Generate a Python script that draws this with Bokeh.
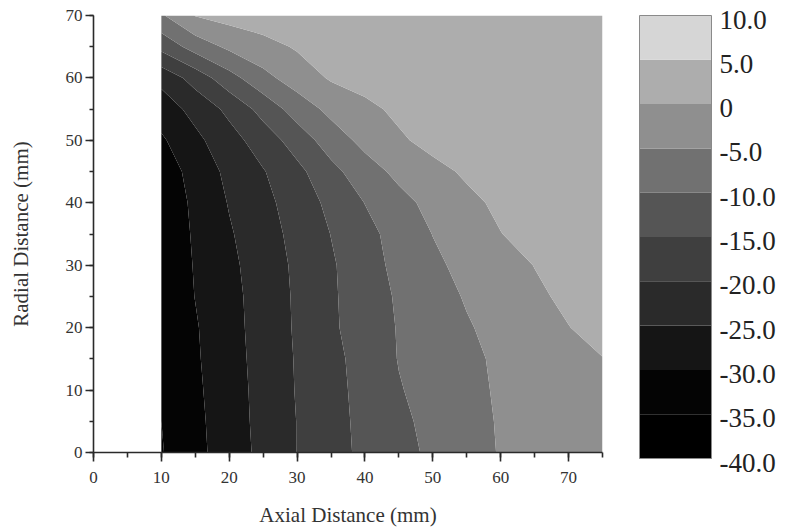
import numpy as np
from bokeh.plotting import figure
from bokeh.layouts import row
from bokeh.models import SingleIntervalTicker, Range1d, ColumnDataSource
from bokeh.embed import file_html
from bokeh.resources import INLINE
from bokeh.core.properties import value

# ---------------- data ----------------
axial_mm = [10, 15, 20, 25, 30, 35, 40, 45, 50, 55, 60, 65, 70, 75]
radial_mm = [0, 5, 10, 15, 20, 25, 30, 35, 40, 45, 50, 55, 60, 65, 70]

row_r0 = [-35.3, -31.4, -27.5, -23.7, -19.9, -16.8, -13.9, -11.5, -9.1, -6.9, -4.7, -3.2, -2.0, -1.0]
row_r5 = [-35.0, -31.2, -27.3, -23.5, -19.9, -16.7, -13.7, -11.0, -8.7, -6.6, -4.6, -3.0, -1.8, -0.8]
row_r10 = [-34.7, -30.9, -27.1, -23.4, -19.7, -16.6, -13.4, -10.3, -8.3, -6.3, -4.4, -2.8, -1.4, -0.4]
row_r15 = [-34.3, -30.6, -26.9, -23.2, -19.6, -16.4, -13.1, -9.8, -7.9, -5.9, -4.3, -2.9, -1.5, -0.1]
row_r20 = [-34.0, -30.4, -26.7, -23.0, -19.4, -15.8, -12.6, -9.7, -7.5, -5.4, -3.6, -1.9, -0.1, 1.4]
row_r25 = [-33.5, -29.9, -26.5, -22.9, -19.3, -15.7, -12.4, -9.4, -6.9, -4.6, -2.7, -0.8, 0.9, 2.4]
row_r30 = [-33.3, -29.7, -26.1, -22.6, -19.1, -15.6, -12.0, -8.7, -5.9, -3.7, -1.8, 0.1, 1.8, 3.2]
row_r35 = [-33.4, -29.4, -25.5, -22.0, -18.6, -14.9, -11.5, -8.1, -4.9, -2.5, -0.1, 1.6, 2.9, 3.7]
row_r40 = [-33.4, -29.0, -24.7, -21.4, -17.7, -13.8, -9.9, -6.5, -3.6, -1.1, 0.9, 2.3, 3.3, 3.9]
row_r45 = [-32.9, -28.1, -23.8, -20.3, -16.3, -11.5, -7.1, -3.8, -1.4, 0.7, 2.2, 3.2, 3.9, 4.3]
row_r50 = [-30.7, -26.2, -21.9, -17.6, -12.8, -7.5, -3.6, -0.7, 1.5, 2.8, 3.6, 4.1, 4.4, 4.6]
row_r55 = [-27.7, -23.4, -18.8, -13.3, -7.8, -3.7, -1.2, 1.0, 2.4, 3.3, 3.9, 4.3, 4.5, 4.7]
row_r60 = [-23.5, -18.0, -11.9, -6.5, -2.6, 0.5, 1.9, 2.9, 3.5, 4.0, 4.3, 4.5, 4.7, 4.8]
row_r65 = [-13.5, -7.9, -4.0, -1.7, 0.5, 1.8, 2.8, 3.4, 3.9, 4.2, 4.4, 4.6, 4.7, 4.8]
row_r70 = [-5.6, 0.2, 1.8, 2.8, 3.4, 3.8, 4.1, 4.3, 4.5, 4.6, 4.7, 4.7, 4.8, 4.8]

levels = [-40, -35, -30, -25, -20, -15, -10, -5, 0, 5, 10]
level_labels = ["-40.0", "-35.0", "-30.0", "-25.0", "-20.0", "-15.0",
                "-10.0", "-5.0", "0", "5.0", "10.0"]
band_colors = ["#000000", "#040404", "#151515", "#2a2a2a", "#3f3f3f",
               "#555555", "#717171", "#8f8f8f", "#adadad", "#d6d6d6"]

z = np.array([row_r0, row_r5, row_r10, row_r15, row_r20, row_r25, row_r30,
              row_r35, row_r40, row_r45, row_r50, row_r55, row_r60, row_r65,
              row_r70])

SERIF = "Liberation Serif"
INK = "#2a2a2a"

# ---------------- main contour plot ----------------
p = figure(title=None, frame_width=509, frame_height=437,
           x_range=Range1d(0, 75), y_range=Range1d(0, 70),
           min_border_left=93, min_border_right=18,
           min_border_top=15, min_border_bottom=77,
           output_backend="svg", toolbar_location=None)
p.outline_line_color = None
p.xgrid.visible = False
p.ygrid.visible = False
p.background_fill_color = "white"
p.border_fill_color = "white"

p.contour(x=axial_mm, y=radial_mm, z=z, levels=levels,
          fill_color=band_colors, line_color=None)

for ax in (p.xaxis[0], p.yaxis[0]):
    ax.ticker = SingleIntervalTicker(interval=10, num_minor_ticks=2)
    ax.axis_line_color = INK
    ax.axis_line_width = 1.6
    ax.major_tick_line_color = INK
    ax.major_tick_line_width = 1.6
    ax.minor_tick_line_color = INK
    ax.minor_tick_line_width = 1.6
    ax.major_tick_in = 0
    ax.minor_tick_in = 0
    ax.major_label_text_font = SERIF
    ax.major_label_text_font_size = "17px"
    ax.major_label_text_color = "#333333"
    ax.axis_label_text_font = SERIF
    ax.axis_label_text_font_size = "21px"
    ax.axis_label_text_font_style = "normal"
    ax.axis_label_text_color = "#333333"

p.xaxis[0].axis_label = "Axial Distance (mm)"
p.xaxis[0].major_tick_out = 9
p.xaxis[0].minor_tick_out = 5
p.xaxis[0].major_label_standoff = 10
p.xaxis[0].axis_label_standoff = 17

p.yaxis[0].axis_label = "Radial Distance (mm)"
p.yaxis[0].major_tick_out = 8
p.yaxis[0].minor_tick_out = 4
p.yaxis[0].major_label_standoff = 3
p.yaxis[0].axis_label_standoff = 30

# ---------------- colour bar (same vertical frame as the main plot) ----------------
px_per_unit = 443 / 50.0
cb = figure(title=None, frame_width=147, frame_height=437,
            x_range=Range1d(0, 147 / 72),
            y_range=Range1d(10 - 437 / px_per_unit, 10),
            min_border_left=19, min_border_right=0,
            min_border_top=15, min_border_bottom=77,
            x_axis_location=None, y_axis_location=None,
            output_backend="svg", toolbar_location=None)
cb.outline_line_color = None
cb.xgrid.visible = False
cb.ygrid.visible = False

bands = ColumnDataSource(dict(bottom=levels[:-1], top=levels[1:], color=band_colors))
cb.quad(left=0, right=1, bottom="bottom", top="top", fill_color="color",
        line_color=None, source=bands, level="overlay")
cb.quad(left=0, right=1, bottom=levels[0], top=levels[-1], fill_color=None,
        line_color="#8a8a8a", line_width=1, level="overlay")

labels = ColumnDataSource(dict(y=levels, text=level_labels))
cb.text(x=1, y="y", text="text", source=labels, x_offset=8, y_offset=4,
        text_align="left", text_baseline="middle",
        text_font=value(SERIF), text_font_size="27px", text_color="#222222",
        level="overlay")

layout = row(p, cb)
open("out.html", "w").write(file_html(layout, INLINE))
